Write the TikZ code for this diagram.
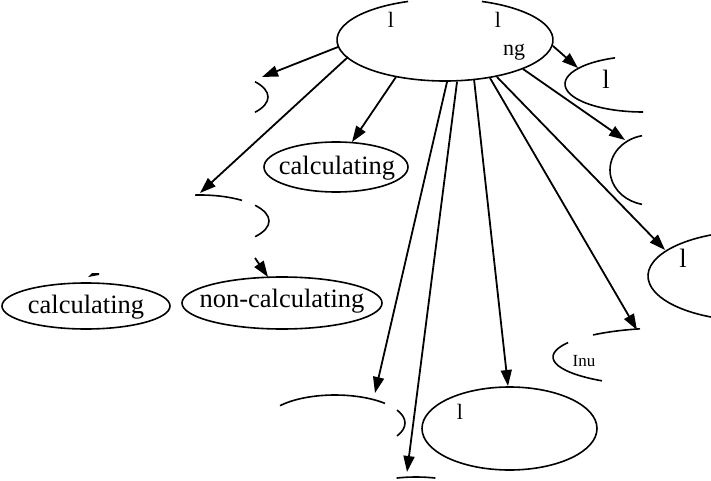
\documentclass[tikz,border=0pt]{standalone}
\usepackage{fontspec}
\setmainfont{Liberation Serif}
\usetikzlibrary{arrows.meta}
\begin{document}
\begin{tikzpicture}[x=1pt,y=1pt,
  edge/.style={line width=1.8pt,-{Triangle[length=16pt,width=11pt]}},
  oval/.style={line width=1.6pt},
  lbl/.style={font=\fontsize{26.5}{28}\selectfont,inner sep=0pt},
  frag/.style={font=\fontsize{22}{24}\selectfont,inner sep=0pt}]
\useasboundingbox (0,0) rectangle (711,480);
\clip (0,0) rectangle (711,480);
% ellipse centres
\coordinate (root) at (445,440);
\coordinate (ea) at (200,383);
\coordinate (eb) at (336,313);
\coordinate (ec) at (200,259);
\coordinate (lc) at (86,174);
\coordinate (nc) at (282,177);
\coordinate (ed) at (335,57);
\coordinate (ee) at (416,-32);
\coordinate (ef) at (509.5,51.5);
\coordinate (eg) at (667,123);
\coordinate (eh) at (755,204);
\coordinate (ei) at (650,310);
\coordinate (ej) at (643,396);
% root (top cut)
\draw[oval] ([shift={(110:108 and 41)}]root) arc[start angle=110,end angle=430,x radius=108,y radius=41];
% partial ellipses
\draw[oval] ([shift={(-36:68 and 26)}]ea) arc[start angle=-36,end angle=36,x radius=68,y radius=26];
\draw[oval] (eb) ellipse[x radius=72,y radius=25];
\draw[oval] ([shift={(52.5:69 and 26)}]ec) arc[start angle=52.5,end angle=94,x radius=69,y radius=26];
\draw[oval] ([shift={(-37:69 and 26)}]ec) arc[start angle=-37,end angle=37,x radius=69,y radius=26];
\draw[oval] (lc) ellipse[x radius=84,y radius=23];
\draw[oval] (nc) ellipse[x radius=100,y radius=26];
\draw[oval] ([shift={(44.4:70 and 28)}]ed) arc[start angle=44.4,end angle=141.8,x radius=70,y radius=28];
\draw[oval] ([shift={(-27.6:70 and 28)}]ed) arc[start angle=-27.6,end angle=27.6,x radius=70,y radius=28];
\draw[oval] ([shift={(76:80 and 35)}]ee) arc[start angle=76,end angle=104,x radius=80,y radius=35];
\draw[oval] (ef) ellipse[x radius=87.5,y radius=41.5];
\draw[oval] ([shift={(103.7:114 and 29)}]eg) arc[start angle=103.7,end angle=130.5,x radius=114,y radius=29];
\draw[oval] ([shift={(150.2:114 and 29)}]eg) arc[start angle=150.2,end angle=235.2,x radius=114,y radius=29];
\draw[oval] ([shift={(100:107 and 45)}]eh) arc[start angle=100,end angle=260,x radius=107,y radius=45];
\draw[oval] ([shift={(101.5:40 and 35)}]ei) arc[start angle=101.5,end angle=258.5,x radius=40,y radius=35];
\draw[oval] ([shift={(111:78 and 28)}]ej) arc[start angle=111,end angle=270,x radius=78,y radius=28];
% texts
\node[lbl] (tb) at (337,312) {calculating};
\node[lbl] (tlc) at (86,173) {calculating};
\node[lbl] (tnc) at (282,179) {non-calculating};
\node[frag] (r1) at (391,460) {l};
\node[frag] (r2) at (498,460) {l};
\node[frag] (r3) at (514,428) {ng};
\node[lbl] (tj) at (606,401) {l};
\node[lbl] (th) at (683,222) {l};
\node[frag] (tf) at (460,68) {l};
\node[font=\fontsize{17}{18}\selectfont,inner sep=0pt] (tg) at (584,119) {Inu};
% edge end points
\coordinate (sa) at (338,433); \coordinate (pa) at (262,403);
\coordinate (sb) at (396,403); \coordinate (pb) at (352,338);
\coordinate (sc) at (348,423); \coordinate (pc) at (200,287);
\coordinate (sd) at (447,398); \coordinate (pd) at (375,87);
\coordinate (se) at (457,398); \coordinate (pe) at (407,8);
\coordinate (sf) at (474,401); \coordinate (pf) at (508,94);
\coordinate (sg) at (490,402); \coordinate (pg) at (637,150);
\coordinate (sh) at (497,403); \coordinate (ph) at (665,230);
\coordinate (si) at (523,411); \coordinate (pi) at (625,340);
\coordinate (sj) at (553,434); \coordinate (pj) at (578,412);
\coordinate (sk) at (255,222); \coordinate (pk) at (268,203);
\foreach \s/\t in {sa/pa,sb/pb,sc/pc,sd/pd,se/pe,sf/pf,sg/pg,sh/ph,si/pi,sj/pj,sk/pk}
  \draw[edge] (\s) -- (\t);
% small arrow-tip remnant above left "calculating"
\fill (88,203) -- (92,207) -- (99,207) -- (99,205) -- cycle;
\end{tikzpicture}
\end{document}
